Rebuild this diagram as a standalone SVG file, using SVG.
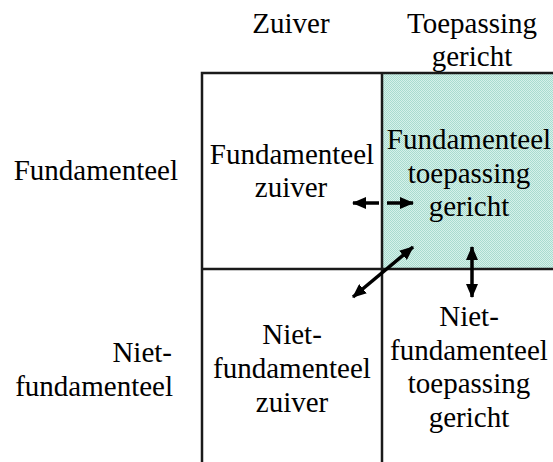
<svg xmlns="http://www.w3.org/2000/svg" width="553" height="462" viewBox="0 0 553 462">
<style>
text{font-family:'Liberation Serif','Times New Roman',serif;font-size:29px;fill:#000;text-anchor:middle}
.l{text-anchor:end}
.grid{stroke:#1a1a1a;stroke-width:2.5;fill:none}
.arr{stroke:#000;stroke-width:3.5;fill:none}
</style>
<defs>
<pattern id="hatch" width="2" height="2" patternUnits="userSpaceOnUse">
<rect width="2" height="2" fill="#d6f1ea"/>
<rect width="1" height="1" fill="#a9dccf"/>
<rect x="1" y="1" width="1" height="1" fill="#a9dccf"/>
</pattern>
<marker id="ah" viewBox="0 0 14 12" refX="13" refY="6" markerWidth="14" markerHeight="12" markerUnits="userSpaceOnUse" orient="auto-start-reverse">
<path d="M0,0 L14,6 L0,12 Z" fill="#000"/>
</marker>
</defs>
<g id="headers">
<text x="291" y="33">Zuiver</text>
<text x="472" y="33">Toepassing</text>
<text x="472" y="66">gericht</text>
<text class="l" x="178" y="180">Fundamenteel</text>
<text class="l" x="172" y="362">Niet-</text>
<text class="l" x="173" y="396">fundamenteel</text>
</g>
<g id="cell-fz">
<rect x="202" y="73" width="180" height="196" fill="#fff"/>
<text x="292" y="164">Fundamenteel</text>
<text x="291" y="197">zuiver</text>
</g>
<g id="cell-ft">
<rect x="382" y="73" width="171" height="196" fill="url(#hatch)"/>
<text x="469" y="149">Fundamenteel</text>
<text x="469" y="183">toepassing</text>
<text x="469" y="216">gericht</text>
</g>
<g id="cell-nz">
<text x="292" y="344">Niet-</text>
<text x="292" y="378">fundamenteel</text>
<text x="292" y="412">zuiver</text>
</g>
<g id="cell-nt">
<text x="469" y="326">Niet-</text>
<text x="469" y="360">fundamenteel</text>
<text x="469" y="393">toepassing</text>
<text x="469" y="427">gericht</text>
</g>
<g id="grid">
<path class="grid" d="M202,462 V73 H553 M382,73 V462 M202,269 H553"/>
</g>
<g id="connectors">
<line class="arr" x1="379" y1="203" x2="353" y2="203" marker-end="url(#ah)"/>
<line class="arr" x1="387" y1="203" x2="413" y2="203" marker-end="url(#ah)"/>
<line class="arr" x1="353" y1="297" x2="413" y2="247" marker-start="url(#ah)" marker-end="url(#ah)"/>
<line class="arr" x1="472" y1="247" x2="472" y2="297" marker-start="url(#ah)" marker-end="url(#ah)"/>
</g>
</svg>
